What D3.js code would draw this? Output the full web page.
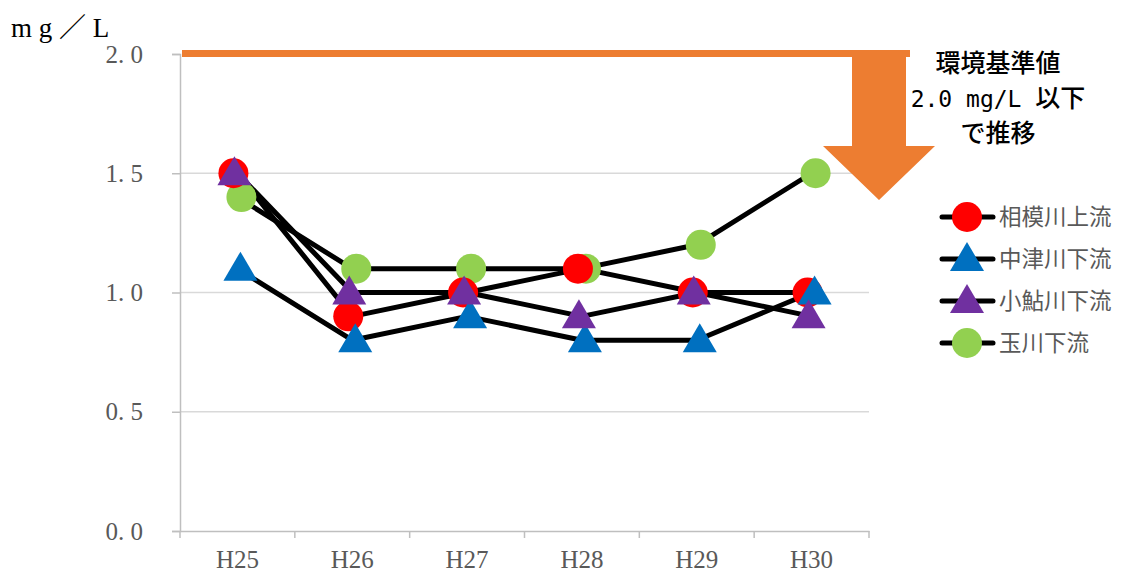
<!DOCTYPE html>
<html>
<head>
<meta charset="utf-8">
<script src="https://cdn.jsdelivr.net/npm/d3@7"></script>
<style>
  body { margin: 0; background: #fff; }
</style>
</head>
<body>
<script>
var years = ["H25", "H26", "H27", "H28", "H29", "H30"];
var seriesNames = ["相模川上流", "中津川下流", "小鮎川下流", "玉川下流"];
var sagamiUpper = [1.5, 0.9, 1.0, 1.1, 1.0, 1.0];
var nakatsuLower = [1.1, 0.8, 0.9, 0.8, 0.8, 1.0];
var koayuLower = [1.5, 1.0, 1.0, 0.9, 1.0, 0.9];
var tamaLower = [1.4, 1.1, 1.1, 1.1, 1.2, 1.5];
var yTicks = [0, 0.5, 1.0, 1.5, 2.0];
var standardValue = 2.0;

var series = [
    {name: seriesNames[0], values: sagamiUpper, shape: "circle", color: "#FF0000", shift: -4},
    {name: seriesNames[1], values: nakatsuLower, shape: "triangle", color: "#0070C0", shift: 3},
    {name: seriesNames[2], values: koayuLower, shape: "triangle", color: "#7030A0", shift: -3},
    {name: seriesNames[3], values: tamaLower, shape: "circle", color: "#92D050", shift: 4}
];

var svg = d3.select("body")
    .append("svg")
    .attr("width", 1121)
    .attr("height", 575)
    .style("display", "block");

var margin = {top: 54, left: 180};
var width = 689, height = 477;
var serif = "'Liberation Serif','DejaVu Serif','Noto Sans CJK JP',serif";
var sans = "'Noto Sans CJK JP','Noto Sans',sans-serif";
var mono = "'DejaVu Sans Mono','Liberation Mono',monospace";

var x = d3.scaleBand().domain(years).range([0, width]);
var y = d3.scaleLinear().domain([0, 2.0]).range([height, 0]);

var g = svg.append("g").attr("transform", "translate(" + margin.left + "," + margin.top + ")");

// gridlines
g.selectAll(".grid")
    .data(yTicks.filter(function(d) { return d > 0 && d < 2; }))
    .enter().append("line")
    .attr("x1", 0).attr("x2", width)
    .attr("y1", function(d) { return y(d); })
    .attr("y2", function(d) { return y(d); })
    .attr("stroke", "#D9D9D9")
    .attr("stroke-width", 1.5);

// y axis
var yAxis = d3.axisLeft(y)
    .tickValues(yTicks)
    .tickSize(8)
    .tickPadding(29)
    .tickFormat(function(d) { return d3.format(".1f")(d).replace(".", ". "); });
var ya = g.append("g").call(yAxis);
ya.selectAll("line, path").attr("stroke", "#BFBFBF").attr("stroke-width", 1.5);
ya.selectAll("text")
    .style("font-family", serif)
    .style("font-size", "25px")
    .attr("fill", "#595959");

// x axis
var xAxis = d3.axisBottom(x).tickSize(0).tickPadding(19);
var xa = g.append("g").attr("transform", "translate(0," + height + ")").call(xAxis);
xa.select(".domain").attr("stroke", "#BFBFBF").attr("stroke-width", 1.5);
xa.selectAll("text")
    .style("font-family", serif)
    .style("font-size", "25px")
    .attr("fill", "#595959");
xa.selectAll(".sep")
    .data(d3.range(years.length + 1))
    .enter().append("line")
    .attr("x1", function(i) { return i * x.step(); })
    .attr("x2", function(i) { return i * x.step(); })
    .attr("y1", 0).attr("y2", 7)
    .attr("stroke", "#BFBFBF")
    .attr("stroke-width", 1.5);

// axis title
svg.append("text")
    .attr("x", 11).attr("y", 37)
    .style("font-family", serif)
    .style("font-size", "27px")
    .attr("fill", "#000")
    .text("m g ／ L");

// lines
var line = d3.line()
    .x(function(d, i) { return x(years[i]) + x.bandwidth() / 2; })
    .y(function(d) { return y(d); });

g.selectAll(".series-line")
    .data(series)
    .enter().append("path")
    .attr("d", function(s) { return line(s.values); })
    .attr("fill", "none")
    .attr("stroke", "#000")
    .attr("stroke-width", 5)
    .attr("stroke-linejoin", "round");

function drawMarker(sel, shape, color) {
    if (shape === "circle") {
        sel.append("circle").attr("r", 15).attr("fill", color);
    } else {
        sel.append("path").attr("d", "M0,-17L17,12L-17,12Z").attr("fill", color);
    }
}

// markers: green, red, blue, purple order for overlaps
[3, 0, 1, 2].forEach(function(k) {
    var s = series[k];
    s.values.forEach(function(v, i) {
        var m = g.append("g")
            .attr("transform", "translate(" + (x(years[i]) + x.bandwidth() / 2 + s.shift) + "," + y(v) + ")");
        drawMarker(m, s.shape, s.color);
    });
});

// standard line and arrow
var orange = "#ED7D31";
svg.append("rect")
    .attr("x", margin.left + 2).attr("y", margin.top + y(standardValue) - 4)
    .attr("width", 728).attr("height", 7)
    .attr("fill", orange);
svg.append("path")
    .attr("d", "M852,52L906,52L906,146L935,146L879,200L823,146L852,146Z")
    .attr("fill", orange);

var note = svg.append("text")
    .attr("text-anchor", "middle")
    .style("font-family", sans)
    .style("font-size", "25px")
    .style("font-weight", "500")
    .attr("fill", "#000");
note.append("tspan").attr("x", 998).attr("y", 72).text("環境基準値");
var l2 = note.append("tspan").attr("x", 998).attr("y", 107);
l2.append("tspan").style("font-family", mono).style("font-size", "23px").text("2.0 mg/L ");
l2.append("tspan").text("以下");
note.append("tspan").attr("x", 998).attr("y", 142).text("で推移");

// legend
var legend = svg.append("g");
series.forEach(function(s, i) {
    var row = legend.append("g").attr("transform", "translate(0," + (217 + i * 42) + ")");
    row.append("line")
        .attr("x1", 942).attr("x2", 993)
        .attr("stroke", "#000").attr("stroke-width", 5)
        .attr("stroke-linecap", "round");
    var m = row.append("g").attr("transform", "translate(967,0)");
    drawMarker(m, s.shape, s.color);
    row.append("text")
        .attr("x", 999).attr("y", 8)
        .style("font-family", sans)
        .style("font-size", "22.5px")
        .attr("fill", "#595959")
        .text(s.name);
});
</script>
</body>
</html>
